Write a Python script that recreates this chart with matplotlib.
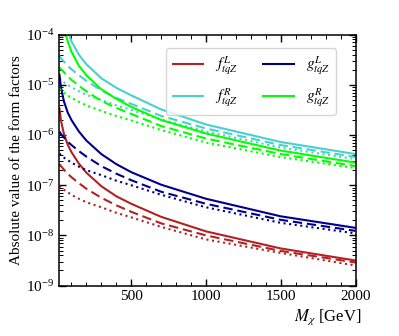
import matplotlib
matplotlib.use("Agg")
import matplotlib.pyplot as plt
import numpy as np

plt.rcParams['font.family'] = 'serif'
plt.rcParams['font.serif'] = ['Liberation Serif', 'DejaVu Serif']
plt.rcParams['mathtext.fontset'] = 'stix'

# DM mass grid [GeV]
mass = [20, 30, 50, 75, 100, 150, 200, 300, 400, 500, 700, 1000, 1500, 2000]

# log10 |form factor|
fL_solid  = [-5.47, -5.71, -5.98, -6.19, -6.34, -6.57, -6.75, -7.02, -7.22, -7.37, -7.63, -7.92, -8.26, -8.50]
fL_dashed = [-6.58, -6.62, -6.69, -6.77, -6.84, -6.96, -7.07, -7.25, -7.40, -7.53, -7.76, -8.00, -8.31, -8.54]
fL_dotted = [-7.01, -7.04, -7.09, -7.14, -7.19, -7.27, -7.34, -7.44, -7.55, -7.64, -7.83, -8.08, -8.35, -8.60]

gL_solid  = [-4.80, -5.05, -5.33, -5.55, -5.70, -5.93, -6.11, -6.38, -6.58, -6.74, -6.99, -7.27, -7.62, -7.85]
gL_dashed = [-5.93, -5.98, -6.05, -6.13, -6.20, -6.32, -6.43, -6.62, -6.77, -6.90, -7.13, -7.37, -7.69, -7.91]
gL_dotted = [-6.37, -6.40, -6.45, -6.50, -6.55, -6.63, -6.70, -6.80, -6.91, -7.00, -7.19, -7.44, -7.75, -7.96]

# the solid right-handed curves leave the top of the frame, so they get their own grid
mass_fR = [70, 84, 100, 150, 200, 300, 400, 500, 700, 1000, 1500, 2000]
fR_solid  = [-3.87, -4.00, -4.13, -4.40, -4.59, -4.87, -5.06, -5.21, -5.49, -5.79, -6.14, -6.38]
fR_dashed = [-4.42, -4.47, -4.54, -4.62, -4.69, -4.81, -4.92, -5.11, -5.26, -5.38, -5.62, -5.87, -6.20, -6.44]
fR_dotted = [-4.87, -4.90, -4.95, -5.00, -5.05, -5.13, -5.20, -5.30, -5.41, -5.50, -5.69, -5.93, -6.25, -6.48]

mass_gR = [50, 62, 75, 100, 150, 200, 300, 400, 500, 700, 1000, 1500, 2000]
gR_solid  = [-3.85, -4.00, -4.13, -4.34, -4.62, -4.81, -5.09, -5.28, -5.44, -5.70, -5.97, -6.31, -6.55]
gR_dashed = [-4.65, -4.69, -4.75, -4.83, -4.90, -5.02, -5.13, -5.32, -5.46, -5.58, -5.82, -6.07, -6.38, -6.62]
gR_dotted = [-5.08, -5.11, -5.16, -5.21, -5.26, -5.34, -5.41, -5.52, -5.62, -5.71, -5.90, -6.15, -6.44, -6.66]

labels = [r'$f^L_{tqZ}$', r'$f^R_{tqZ}$', r'$g^L_{tqZ}$', r'$g^R_{tqZ}$']
colors = ['firebrick', 'mediumturquoise', 'darkblue', 'lime']

fig = plt.figure(figsize=(3.99, 3.36), dpi=100)
ax = fig.add_axes([0.149, 0.150, 0.742, 0.747])

curves = [
    (mass, fL_solid, fL_dashed, fL_dotted),
    (mass_fR, fR_solid, fR_dashed, fR_dotted),
    (mass, gL_solid, gL_dashed, gL_dotted),
    (mass_gR, gR_solid, gR_dashed, gR_dotted),
]

handles = []
for (mSolid, solid, dashed, dotted), col, lab in zip(curves, colors, labels):
    h, = ax.plot(mSolid, 10**np.array(solid), color=col, lw=1.5, label=lab)
    ax.plot(mass, 10**np.array(dashed), color=col, lw=1.5, ls=(0, (4.5, 2.3)))
    ax.plot(mass, 10**np.array(dotted), color=col, lw=1.5, ls=(0, (1, 1.7)))
    handles.append(h)

ax.set_yscale('log')
ax.set_xlim(20, 2000)
ax.set_ylim(1e-9, 1e-4)
ax.set_xticks([500, 1000, 1500, 2000])
ax.xaxis.set_minor_locator(matplotlib.ticker.MultipleLocator(100))
ax.tick_params(which='both', direction='in', top=True, right=True, labelsize=11)
ax.tick_params(which='major', length=5, width=1)
ax.tick_params(which='minor', length=3, width=0.7)
for s in ax.spines.values():
    s.set_linewidth(1.1)

ax.set_ylabel('Absolute value of the form factors', fontsize=11, labelpad=2)
ax.set_xlabel(r'$M_\chi$ [GeV]', fontsize=12)
ax.xaxis.set_label_coords(1.02, -0.085)
ax.xaxis.label.set_horizontalalignment('right')

ax.legend(handles=handles, ncol=2, fontsize=11, loc='upper right',
          bbox_to_anchor=(0.935, 0.945), borderaxespad=0,
          handlelength=2.0, columnspacing=1.6, labelspacing=0.6)

fig.savefig('out.png', dpi=100)
